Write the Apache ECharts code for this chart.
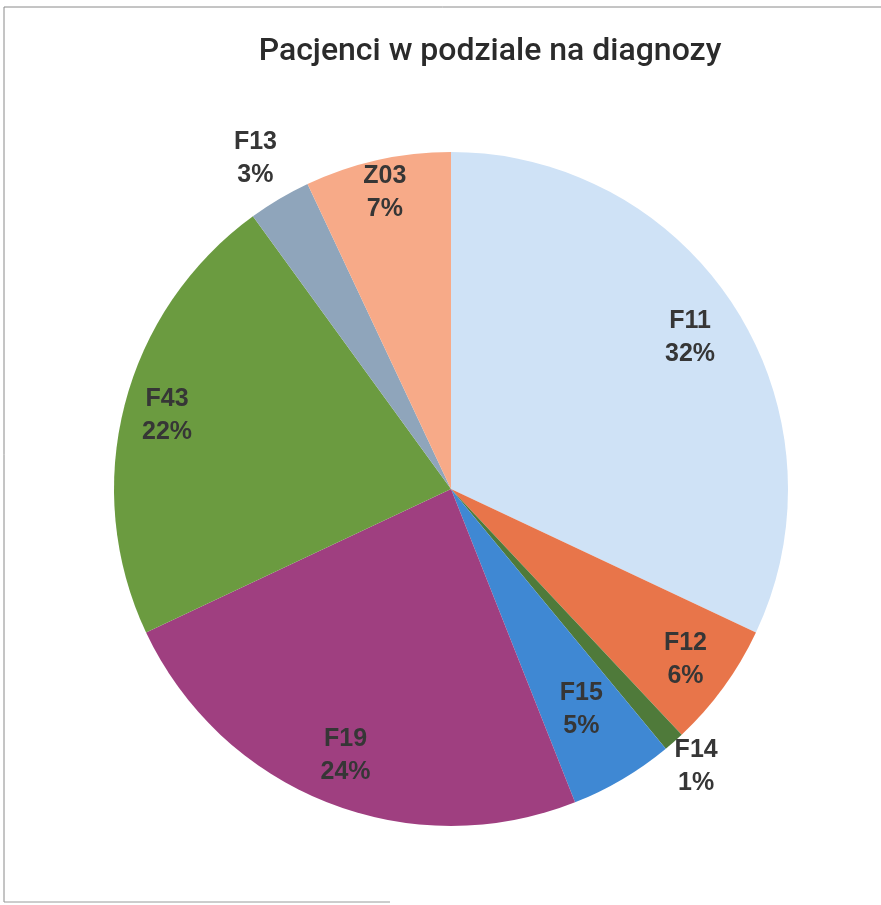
<!DOCTYPE html>
<html>
<head>
<meta charset="utf-8">
<script src="https://cdn.jsdelivr.net/npm/echarts@6/dist/echarts.min.js"></script>
<style>
  html, body { margin: 0; padding: 0; background: #fff; }
  #chart { width: 881px; height: 905px; }
</style>
</head>
<body>
<div id="chart"></div>
<script>
// dane (udział procentowy)
const categories = ['F11', 'F12', 'F14', 'F15', 'F19', 'F43', 'F13', 'Z03'];
const shares = [32, 6, 1, 5, 24, 22, 3, 7];
const sliceColors = ['#cfe2f6', '#e8754a', '#4f7a3a', '#3f88d3', '#9f3f80', '#6b9b40', '#8fa5bb', '#f7aa88'];

// gdzie stoi etykieta, jako ułamek promienia (F13 i F14 są na zewnątrz)
const labelRadius = [0.84, 0.86, 1.10, 0.76, 0.85, 0.87, 1.14, 0.90];

const CX = 451, CY = 489, R = 337;

const chart = echarts.init(document.getElementById('chart'), null, { renderer: 'canvas' });

// kąt środka każdego wycinka, od góry zgodnie z ruchem wskazówek
const total = shares.reduce((a, b) => a + b, 0);
const midAngles = [];
let acc = 0;
shares.forEach(v => {
    midAngles.push((acc + v / 2) / total * Math.PI * 2);
    acc += v;
});

chart.setOption({
    title: {
        text: 'Pacjenci w podziale na diagnozy',
        left: 485,
        top: 31,
        textAlign: 'center',
        textStyle: {
            fontFamily: 'Roboto',
            fontSize: 32,
            fontWeight: 500,
            color: '#2b2b2b'
        }
    },
    graphic: [
        // ramka ze skanu: lewa, górna i kawałek dolnej krawędzi
        { type: 'line', shape: { x1: 4, y1: 7, x2: 881, y2: 7 }, style: { stroke: '#8a8a8a', lineWidth: 1 }, silent: true },
        { type: 'line', shape: { x1: 4, y1: 7, x2: 4, y2: 902 }, style: { stroke: '#8a8a8a', lineWidth: 1 }, silent: true },
        { type: 'line', shape: { x1: 4, y1: 902, x2: 390, y2: 902 }, style: { stroke: '#9a9a9a', lineWidth: 1 }, silent: true }
    ],
    series: [{
        type: 'pie',
        center: [CX, CY],
        radius: [0, R],
        startAngle: 90,
        clockwise: true,
        avoidLabelOverlap: false,
        itemStyle: { borderWidth: 0 },
        label: {
            show: true,
            position: 'inside',
            formatter: '{b}\n{d}%',
            fontFamily: 'Liberation Sans',
            fontSize: 25,
            fontWeight: 'bold',
            lineHeight: 33,
            color: '#363636',
            align: 'center'
        },
        labelLine: { show: false },
        labelLayout: (params) => {
            const i = params.dataIndex;
            const r = R * labelRadius[i];
            return {
                x: CX + r * Math.sin(midAngles[i]),
                y: CY - r * Math.cos(midAngles[i]),
                align: 'center',
                verticalAlign: 'middle'
            };
        },
        data: categories.map((name, i) => ({
            name: name,
            value: shares[i],
            itemStyle: { color: sliceColors[i] }
        }))
    }]
});
</script>
</body>
</html>
